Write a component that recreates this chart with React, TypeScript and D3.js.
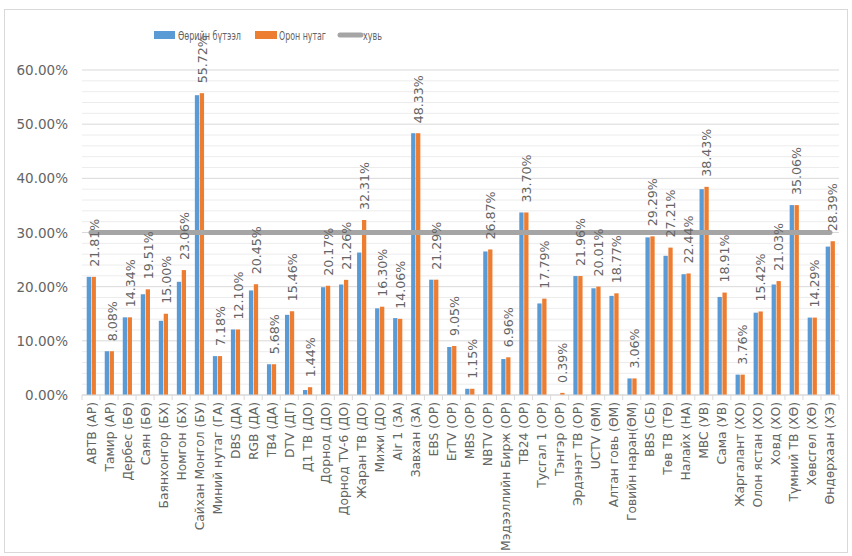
import React from "react";
import * as d3 from "d3";

const categories = [
  "АВТВ (АР)", "Тамир (АР)", "Дербес (БӨ)", "Саян (БӨ)", "Баянхонгор (БХ)", "Номгон (БХ)",
  "Сайхан Монгол (БУ)", "Миний нутаг (ГА)", "DBS (ДА)", "RGB (ДА)", "TB4 (ДА)", "DTV (ДГ)",
  "Д1 ТВ (ДО)", "Дорнод (ДО)", "Дорнод TV-6 (ДО)", "Жаран ТВ (ДО)", "Мижи (ДО)", "Air 1 (ЗА)",
  "Завхан (ЗА)", "EBS (ОР)", "ErTV (ОР)", "MBS (ОР)", "NBTV (ОР)", "Мэдээллийн Бирж (ОР)",
  "TB24 (ОР)", "Тусгал 1 (ОР)", "Тэнгэр (ОР)", "Эрдэнэт ТВ (ОР)", "UCTV (ӨМ)", "Алтан говь (ӨМ)",
  "Говийн наран(ӨМ)", "BBS (СБ)", "Төв ТВ (ТӨ)", "Налайх (НА)", "MBC (УВ)", "Сама (УВ)",
  "Жаргалант (ХО)", "Олон ястан (ХО)", "Ховд (ХО)", "Түмний ТВ (ХӨ)", "Хөвсгөл (ХӨ)", "Өндөрхаан (ХЭ)",
];

const ownProduction = [
  21.81, 8.08, 14.34, 18.6, 13.7, 20.9,
  55.35, 7.18, 12.1, 19.3, 5.68, 14.8,
  0.92, 19.9, 20.4, 26.3, 16.0, 14.2,
  48.33, 21.29, 8.86, 1.15, 26.5, 6.64,
  33.7, 16.9, 0, 21.96, 19.7, 18.3,
  3.06, 29.1, 25.7, 22.3, 38.0, 18.1,
  3.76, 15.2, 20.4, 35.06, 14.29, 27.4,
];

const localShare = [
  21.81, 8.08, 14.34, 19.51, 15.0, 23.06,
  55.72, 7.18, 12.1, 20.45, 5.68, 15.46,
  1.44, 20.17, 21.26, 32.31, 16.3, 14.06,
  48.33, 21.29, 9.05, 1.15, 26.87, 6.96,
  33.7, 17.79, 0.39, 21.96, 20.01, 18.77,
  3.06, 29.29, 27.21, 22.44, 38.43, 18.91,
  3.76, 15.42, 21.03, 35.06, 14.29, 28.39,
];

const targetRate = categories.map(() => 30);

const yTicks = [0, 10, 20, 30, 40, 50, 60];
const seriesNames = ["Өөрийн бүтээл", "Орон нутаг", "хувь"];

const W = 852;
const H = 556;
const FONT = "'DejaVu Sans', 'Liberation Sans', sans-serif";
const TXT = "#646464";
const BLUE = "#5B9BD5";
const ORANGE = "#ED7D31";
const GREY = "#A5A5A5";

export default function App() {
  const x0 = 82;
  const x1 = 839;
  const x = d3.scaleBand<string>().domain(categories).range([x0, x1]).padding(0);
  const y = d3.scaleLinear().domain([0, 60]).range([395, 70]);
  const bw = x.bandwidth();
  const barW = 4.3;
  const minor = d3.range(0, 61, 2).filter((v) => v % 10 !== 0);

  const line = d3
    .line<number>()
    .x((_, i) => (x(categories[i]) as number) + bw / 2)
    .y((v) => y(v));

  return (
    <svg
      width={W}
      height={H}
      style={{ position: "absolute", left: 0, top: 0, background: "#fff" }}
      fontFamily={FONT}
    >
      <rect x={4.5} y={9.5} width={843} height={543} fill="#fff" stroke="#d9d9d9" />
      {minor.map((v) => (
        <line key={"m" + v} x1={x0} x2={x1} y1={y(v)} y2={y(v)} stroke="#ececec" strokeWidth={1} />
      ))}
      {yTicks.map((v) => (
        <line key={"g" + v} x1={x0} x2={x1} y1={y(v)} y2={y(v)} stroke="#d9d9d9" strokeWidth={1} />
      ))}
      {yTicks.map((v) => (
        <text key={"yl" + v} x={68} y={y(v) + 5} textAnchor="end" fontSize={13.5} fill={TXT}>
          {v.toFixed(2) + "%"}
        </text>
      ))}
      {categories.map((c, i) => {
        const cx = (x(c) as number) + bw / 2;
        return (
          <g key={"b" + i}>
            {ownProduction[i] > 0 && (
              <rect x={cx - barW} y={y(ownProduction[i])} width={barW} height={y(0) - y(ownProduction[i])} fill={BLUE} />
            )}
            <rect x={cx + 0.6} y={y(localShare[i])} width={barW} height={y(0) - y(localShare[i])} fill={ORANGE} />
          </g>
        );
      })}
      <line x1={x0} x2={x1} y1={y(0)} y2={y(0)} stroke="#d9d9d9" />
      {categories.map((c, i) => (
        <line key={"t" + i} x1={x(c) as number} x2={x(c) as number} y1={y(0)} y2={y(0) + 5} stroke="#d9d9d9" />
      ))}
      <line x1={x1} x2={x1} y1={y(0)} y2={y(0) + 5} stroke="#d9d9d9" />
      {categories.map((c) => {
        const cx = (x(c) as number) + bw / 2 + 4.5;
        return (
          <text key={"cl" + c} transform={`translate(${cx},402) rotate(-90)`} textAnchor="end" fontSize={12.3} fill={TXT}>
            {c}
          </text>
        );
      })}
      <path d={line(targetRate) || ""} fill="none" stroke={GREY} strokeWidth={5} strokeLinecap="round" />
      {categories.map((c, i) => {
        const cx = (x(c) as number) + bw / 2 + 3 + 4.5;
        const ty = y(localShare[i]) - 10;
        return (
          <text key={"dl" + i} transform={`translate(${cx},${ty}) rotate(-90)`} textAnchor="start" fontSize={12.6} fill={TXT}>
            {localShare[i].toFixed(2) + "%"}
          </text>
        );
      })}
      <rect x={154} y={31} width={21} height={8} fill={BLUE} />
      <text x={178} y={40} fontSize={13} fill={TXT} textLength={63} lengthAdjust="spacingAndGlyphs">
        {seriesNames[0]}
      </text>
      <rect x={255} y={31} width={22} height={8} fill={ORANGE} />
      <text x={279} y={40} fontSize={13} fill={TXT} textLength={47} lengthAdjust="spacingAndGlyphs">
        {seriesNames[1]}
      </text>
      <line x1={340} x2={361} y1={35} y2={35} stroke={GREY} strokeWidth={5} strokeLinecap="round" />
      <text x={363} y={40} fontSize={13} fill={TXT} textLength={19} lengthAdjust="spacingAndGlyphs">
        {seriesNames[2]}
      </text>
    </svg>
  );
}
